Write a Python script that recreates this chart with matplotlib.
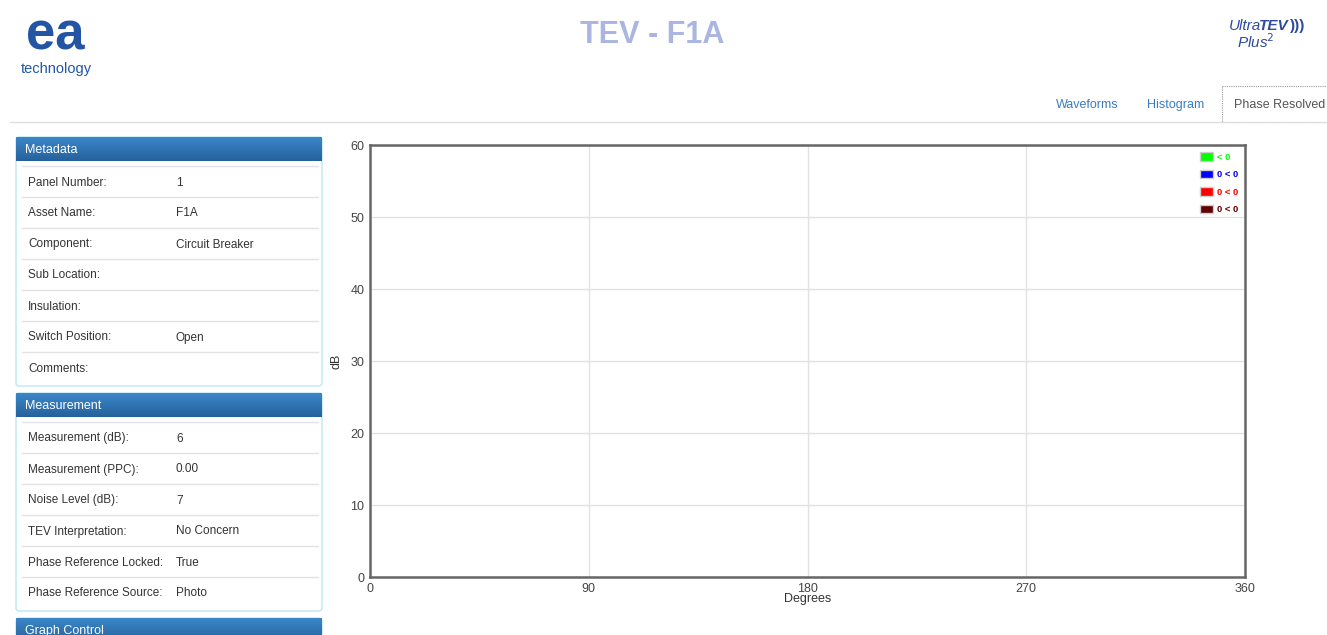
import matplotlib
matplotlib.use("Agg")
import matplotlib.pyplot as plt
import numpy as np
from matplotlib.patches import Patch, FancyBboxPatch, Rectangle

plt.rcParams['font.family'] = ['Liberation Sans', 'DejaVu Sans']

# Chart data (phase resolved plot is empty)
x_ticks = [0, 90, 180, 270, 360]
y_ticks = [0, 10, 20, 30, 40, 50, 60]
legend_labels = ["< 0", "0 < 0", "0 < 0", "0 < 0"]
legend_colors = ["#00ff00", "#0000ff", "#ff0000", "#600000"]
series_x = [[], [], [], []]
series_y = [[], [], [], []]

metadata_keys = ["Panel Number:", "Asset Name:", "Component:", "Sub Location:",
                 "Insulation:", "Switch Position:", "Comments:"]
metadata_vals = ["1", "F1A", "Circuit Breaker", "", "", "Open", ""]
measure_keys = ["Measurement (dB):", "Measurement (PPC):", "Noise Level (dB):",
                "TEV Interpretation:", "Phase Reference Locked:", "Phase Reference Source:"]
measure_vals = ["6", "0.00", "7", "No Concern", "True", "Photo"]
tabs = ["Waveforms", "Histogram", "Phase Resolved"]

W, H = 1327, 635
fig = plt.figure(figsize=(W / 100, H / 100), dpi=100)

# page overlay in pixel coordinates
bg = fig.add_axes([0, 0, 1, 1])
bg.set_xlim(0, W)
bg.set_ylim(H, 0)
bg.axis("off")

# logos / title
bg.text(55, 50, "ea", fontsize=38, fontweight="bold", color="#2355a5",
        ha="center", va="baseline")
bg.text(56, 73, "technology", fontsize=10.5, color="#2355a5", ha="center", va="baseline")
bg.text(652, 43, "TEV - F1A", fontsize=22, fontweight="bold", color="#aab5e2",
        ha="center", va="baseline")
bg.text(1229, 30, "Ultra", fontsize=11, style="italic", color="#2f4a9e", ha="left", va="baseline")
bg.text(1259, 30, "TEV", fontsize=11, style="italic", fontweight="bold", color="#2f4a9e",
        ha="left", va="baseline")
bg.text(1290, 30, ")))", fontsize=11, fontweight="bold", color="#2f4a9e", ha="left", va="baseline")
bg.text(1237, 48, "Plus$^2$", fontsize=11, style="italic", color="#2f4a9e", ha="left", va="baseline")

# tabs
bg.plot([10, W], [122, 122], color="#dddddd", lw=1)
bg.text(1087, 108, tabs[0], fontsize=9, color="#3a7cc0", ha="center", va="baseline")
bg.text(1176, 108, tabs[1], fontsize=9, color="#3a7cc0", ha="center", va="baseline")
bg.add_patch(Rectangle((1222, 86), 110, 36, fill=False, ls=(0, (1, 1)), ec="#999999", lw=0.8))
bg.add_patch(Rectangle((1223, 110), 110, 12, fc="white", ec="none"))
bg.text(1280, 108, tabs[2], fontsize=9, color="#555555", ha="center", va="baseline")

grad = np.linspace(0, 1, 50).reshape(-1, 1)
top_c = np.array([0.23, 0.53, 0.79])
bot_c = np.array([0.15, 0.38, 0.61])
grad_img = top_c + (bot_c - top_c) * grad[:, :, None] * np.ones((1, 1, 3))


def panel(y0, y1, title, keys, vals):
    bg.add_patch(FancyBboxPatch((16, y0), 306, y1 - y0, boxstyle="round,pad=0,rounding_size=3",
                                fc="white", ec="#bce8f1", lw=1))
    bg.imshow(grad_img, extent=(16, 322, y0 + 24, y0), aspect="auto", zorder=2)
    bg.text(25, y0 + 16, title, fontsize=9, color="white", ha="left", va="baseline", zorder=3)
    for i, (k, v) in enumerate(zip(keys, vals)):
        yl = y0 + 29 + 31 * i
        bg.plot([22, 318], [yl, yl], color="#e3e3e3", lw=1, zorder=2)
        bg.text(28, yl + 19.5, k, fontsize=8.5, color="#333333", ha="left", va="baseline")
        bg.text(176, yl + 19.5, v, fontsize=8.5, color="#333333", ha="left", va="baseline")


panel(137, 386, "Metadata", metadata_keys, metadata_vals)
panel(393, 611, "Measurement", measure_keys, measure_vals)
panel(618, 660, "Graph Control", [], [])
bg.set_xlim(0, W)
bg.set_ylim(H, 0)

# chart
ax = fig.add_axes([370 / W, 1 - 577 / H, 875 / W, 432 / H])
for sx, sy, c, lab in zip(series_x, series_y, legend_colors, legend_labels):
    ax.scatter(sx, sy, color=c, s=6, label=lab)
ax.set_xlim(0, 360)
ax.set_ylim(0, 60)
ax.set_xticks(x_ticks)
ax.set_yticks(y_ticks)
ax.grid(True, color="#e2e2e2", lw=1)
ax.tick_params(length=0, labelsize=9, colors="#444444", pad=4)
for s in ax.spines.values():
    s.set_color("#666666")
    s.set_linewidth(1.8)
ax.set_xlabel("Degrees", fontsize=9, color="#333333", labelpad=-1)
ax.set_ylabel("dB", fontsize=9, color="#333333", labelpad=6)

handles = [Patch(facecolor=c, edgecolor="#cccccc", lw=1) for c in legend_colors]
leg = ax.legend(handles, legend_labels, loc="upper right", frameon=False,
                handlelength=1.4, handleheight=1.0, handletextpad=0.4, labelspacing=0.85,
                borderaxespad=0.35, prop={"weight": "bold", "size": 6.8})
for t, c in zip(leg.get_texts(), legend_colors):
    t.set_color(c)

fig.savefig("out.png", dpi=100)
